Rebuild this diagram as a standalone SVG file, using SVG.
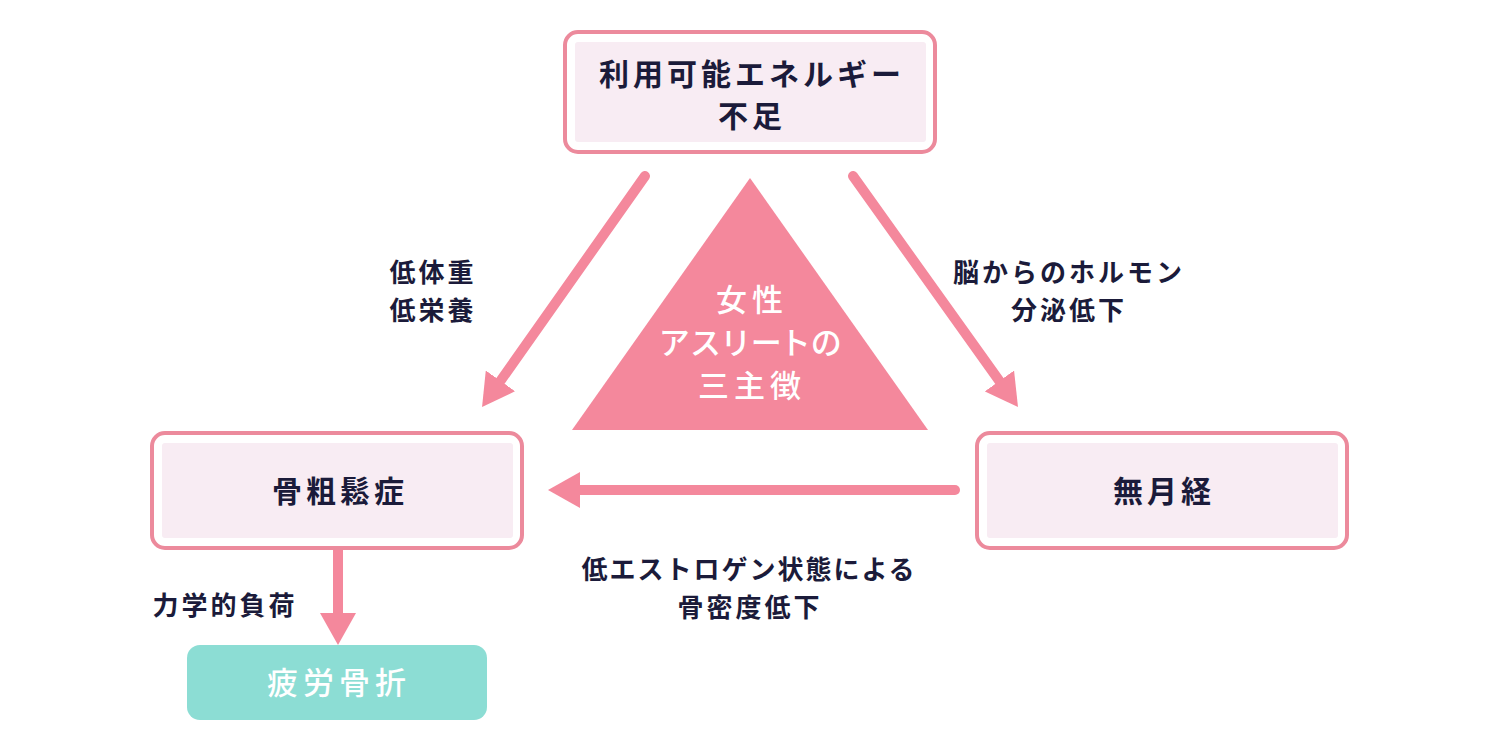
<svg xmlns="http://www.w3.org/2000/svg" width="1500" height="750" viewBox="0 0 1500 750">
  <defs>
    <style>
      .outer { fill: #ffffff; stroke: #EC8A9C; stroke-width: 4; }
      .inner { fill: #F8ECF3; }
      .node-text { font-family: "Noto Sans CJK JP", "Noto Sans", sans-serif; font-weight: 700; font-size: 30px; fill: #1B1B3A; text-anchor: middle; letter-spacing: 4px; }
      .label { font-family: "Noto Sans CJK JP", "Noto Sans", sans-serif; font-weight: 700; font-size: 26px; fill: #1B1B3A; text-anchor: middle; letter-spacing: 3px; }
      .white-text { font-family: "Noto Sans CJK JP", "Noto Sans", sans-serif; font-weight: 500; font-size: 31px; fill: #ffffff; text-anchor: middle; letter-spacing: 5px; }
      .conn { stroke: #F4889C; stroke-width: 10; fill: none; stroke-linecap: round; }
    </style>
    <marker id="head" markerUnits="userSpaceOnUse" viewBox="0 0 32 36" markerWidth="32" markerHeight="36" refX="0" refY="18" orient="auto">
      <path d="M0,0 L32,18 L0,36 z" fill="#F4889C"/>
    </marker>
  </defs>
  <rect width="1500" height="750" fill="#ffffff"/>

  <g id="triangle">
    <polygon points="750,178 928,430 572,430" fill="#F4889C"/>
    <text class="white-text" x="752" y="311">女性</text>
    <text class="white-text" x="752" y="354" style="letter-spacing: 3px; font-feature-settings: 'palt';">アスリートの</text>
    <text class="white-text" x="752" y="397">三主徴</text>
  </g>

  <g id="connectors">
    <line class="conn" x1="645" y1="176" x2="500.5" y2="380.9" marker-end="url(#head)"/>
    <line class="conn" x1="853" y1="176" x2="999.4" y2="381" marker-end="url(#head)"/>
    <line class="conn" x1="955" y1="490" x2="580" y2="490" marker-end="url(#head)"/>
    <line class="conn" x1="338" y1="550" x2="338" y2="613" style="stroke-linecap: butt" marker-end="url(#head)"/>
  </g>

  <g id="labels">
    <text class="label" x="433" y="282">低体重</text>
    <text class="label" x="433" y="320">低栄養</text>
    <text class="label" x="1069" y="282">脳からのホルモン</text>
    <text class="label" x="1069" y="320">分泌低下</text>
    <text class="label" x="749" y="579" style="letter-spacing: 2px;">低エストロゲン状態による</text>
    <text class="label" x="750" y="617">骨密度低下</text>
    <text class="label" x="225" y="615">力学的負荷</text>
  </g>

  <g id="node-energy">
    <rect class="outer" x="565" y="32" width="370" height="120" rx="13"/>
    <rect class="inner" x="575" y="42" width="351" height="100" rx="3"/>
    <text class="node-text" x="752" y="85">利用可能エネルギー</text>
    <text class="node-text" x="752" y="127">不足</text>
  </g>

  <g id="node-osteoporosis">
    <rect class="outer" x="152" y="433" width="370" height="115" rx="13"/>
    <rect class="inner" x="162" y="443" width="351" height="95" rx="3"/>
    <text class="node-text" x="340" y="502">骨粗鬆症</text>
  </g>

  <g id="node-amenorrhea">
    <rect class="outer" x="977" y="433" width="370" height="115" rx="13"/>
    <rect class="inner" x="987" y="443" width="351" height="95" rx="3"/>
    <text class="node-text" x="1164" y="502">無月経</text>
  </g>

  <g id="node-fracture">
    <rect x="187" y="645" width="300" height="75" rx="13" fill="#8CDDD4"/>
    <text class="white-text" x="339" y="694">疲労骨折</text>
  </g>
</svg>
